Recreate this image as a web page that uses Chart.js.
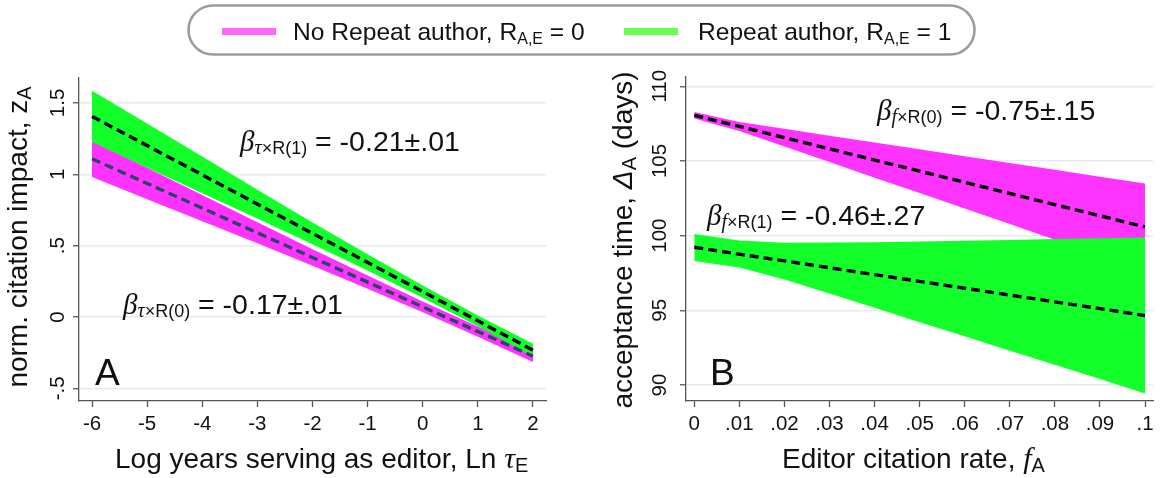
<!DOCTYPE html>
<html><head><meta charset="utf-8">
<script src="https://cdn.jsdelivr.net/npm/chart.js@4.4.0/dist/chart.umd.min.js"></script>
<style>
html,body{margin:0;padding:0;background:#fff;width:1163px;height:478px;overflow:hidden;}
#wrap{position:relative;width:1163px;height:478px;}
canvas{position:absolute;top:0;}
#cA{left:0;} #cB{left:560px;}
svg{position:absolute;left:0;top:0;pointer-events:none;}
text{font-family:"Liberation Sans",Arial,Helvetica,sans-serif;fill:#111;white-space:pre;}
.it{font-family:"Liberation Serif","Times New Roman",serif;font-style:italic;}
.si{font-style:italic;}
</style></head><body>
<div id="wrap">
<canvas id="cA" width="560" height="478"></canvas>
<canvas id="cB" width="603" height="478"></canvas>
<svg width="1163" height="478" xmlns="http://www.w3.org/2000/svg">
  <rect x="188.5" y="5.5" width="786" height="49" rx="24.5" ry="24.5" fill="#fff" stroke="#9c9c9c" stroke-width="2.6"/>
  <rect x="222" y="28" width="54" height="7" fill="#ff66ff"/>
  <text x="293" y="40" font-size="24.6">No Repeat author, R<tspan font-size="16" dy="4">A,E</tspan><tspan dy="-4"> = 0</tspan></text>
  <rect x="624" y="28" width="54" height="7" fill="#66ff4d"/>
  <text x="698" y="40" font-size="24.6">Repeat author, R<tspan font-size="16" dy="4">A,E</tspan><tspan dy="-4"> = 1</tspan></text>

  <text transform="translate(27,237) rotate(-90)" text-anchor="middle" font-size="28">norm. citation impact, z<tspan font-size="20" dy="4">A</tspan></text>
  <text x="115" y="468" font-size="28">Log years serving as editor, Ln <tspan class="it" font-size="30">τ</tspan><tspan font-size="20" dy="4">E</tspan></text>
  <text transform="translate(632,240) rotate(-90)" text-anchor="middle" font-size="28">acceptance time, <tspan class="si">Δ</tspan><tspan font-size="20" dy="4">A</tspan><tspan dy="-4"> (days)</tspan></text>
  <text x="782" y="468" font-size="28">Editor citation rate, <tspan class="it" font-size="30">f</tspan><tspan font-size="20" dy="4">A</tspan></text>

  <text x="240" y="151" font-size="28.5"><tspan class="it" font-size="29">β</tspan><tspan class="it" font-size="20" dy="3">τ</tspan><tspan font-size="18">×R(1)</tspan><tspan dy="-3"> = -0.21±.01</tspan></text>
  <text x="123" y="314" font-size="28.5"><tspan class="it" font-size="29">β</tspan><tspan class="it" font-size="20" dy="3">τ</tspan><tspan font-size="18">×R(0)</tspan><tspan dy="-3"> = -0.17±.01</tspan></text>
  <text x="877" y="120" font-size="28.5"><tspan class="it" font-size="29">β</tspan><tspan class="it" font-size="20" dy="3">f</tspan><tspan font-size="18">×R(0)</tspan><tspan dy="-3"> = -0.75±.15</tspan></text>
  <text x="707" y="225" font-size="28.5"><tspan class="it" font-size="29">β</tspan><tspan class="it" font-size="20" dy="3">f</tspan><tspan font-size="18">×R(1)</tspan><tspan dy="-3"> = -0.46±.27</tspan></text>

  <text x="95" y="385" font-size="37">A</text>
  <text x="710" y="385" font-size="37">B</text>
</svg>
</div>
<script>
// ---------- Panel A: Log years serving as editor ----------
const xA = [-6, -5, -4, -3, -2, -1, 0, 1, 2];
const r1MeanA  = [1.406, 1.201, 0.996, 0.791, 0.586, 0.382, 0.178, -0.027, -0.233];
const r1UpperA = [1.586, 1.356, 1.124, 0.891, 0.663, 0.439, 0.221, 0.011, -0.187];
const r1LowerA = [1.226, 1.046, 0.868, 0.691, 0.509, 0.325, 0.135, -0.065, -0.279];
const r0MeanA  = [1.109, 0.936, 0.763, 0.590, 0.417, 0.244, 0.071, -0.102, -0.275];
const r0UpperA = [1.237, 1.046, 0.855, 0.664, 0.475, 0.290, 0.109, -0.066, -0.234];
const r0LowerA = [0.981, 0.826, 0.671, 0.516, 0.359, 0.198, 0.033, -0.138, -0.316];
const xTicksA = [-6, -5, -4, -3, -2, -1, 0, 1, 2];
const xTickLabelsA = ['-6', '-5', '-4', '-3', '-2', '-1', '0', '1', '2'];
const yTicksA = [-0.5, 0, 0.5, 1, 1.5];
const yTickLabelsA = ['-.5', '0', '.5', '1', '1.5'];

// ---------- Panel B: Editor citation rate ----------
const xB = [0, 0.01, 0.02, 0.03, 0.04, 0.05, 0.06, 0.07, 0.08, 0.09, 0.1];
const r0MeanB  = [108.06, 107.31, 106.56, 105.81, 105.06, 104.32, 103.57, 102.82, 102.07, 101.33, 100.58];
const r0UpperB = [108.28, 107.61, 107.15, 106.69, 106.24, 105.78, 105.32, 104.86, 104.41, 103.95, 103.49];
const r0LowerB = [107.84, 107.01, 105.97, 104.93, 103.88, 102.86, 101.82, 100.78, 99.73, 98.71, 97.67];
const r1MeanB  = [99.22, 98.76, 98.31, 97.85, 97.39, 96.94, 96.48, 96.02, 95.57, 95.11, 94.65];
const r1UpperB = [100.11, 99.68, 99.52, 99.54, 99.56, 99.60, 99.65, 99.70, 99.77, 99.82, 99.88];
const r1LowerB = [98.31, 97.87, 97.07, 96.12, 95.17, 94.21, 93.26, 92.30, 91.35, 90.40, 89.44];
const xTicksB = [0, 0.01, 0.02, 0.03, 0.04, 0.05, 0.06, 0.07, 0.08, 0.09, 0.1];
const xTickLabelsB = ['0', '.01', '.02', '.03', '.04', '.05', '.06', '.07', '.08', '.09', '.1'];
const yTicksB = [90, 95, 100, 105, 110];
const yTickLabelsB = ['90', '95', '100', '105', '110'];

const MAGENTA = '#ff33ff';
const GREEN = '#12ff2a';
const NAVY = '#284766';
const AXIS = '#555555';
const GRID = '#e6ecee';
const NONE = 'rgba(0,0,0,0)';

Chart.defaults.font.family = '"Liberation Sans", Arial, Helvetica, sans-serif';

function pts(xs, ys) { return xs.map((x, i) => ({ x: x, y: ys[i] })); }

function meanLine(xs, ys, color, order) {
  return { data: pts(xs, ys), borderColor: color, borderWidth: 3.4, borderDash: [9, 5],
           borderCapStyle: 'butt', pointRadius: 0, fill: false, tension: 0, order: order };
}
function bandEdge(xs, ys, color, fillNext, order) {
  return { data: pts(xs, ys), borderColor: NONE, borderWidth: 0, pointRadius: 0,
           backgroundColor: color, fill: fillNext ? '+1' : false, tension: 0, order: order };
}

function makeChart(id, cfg) {
  return new Chart(document.getElementById(id), {
    type: 'line',
    data: { datasets: cfg.datasets },
    options: {
      responsive: false, animation: false, events: [],
      layout: { padding: { left: 0, right: cfg.padRight, top: cfg.padTop, bottom: 0 } },
      plugins: { legend: { display: false }, tooltip: { enabled: false } },
      scales: {
        x: {
          type: 'linear', min: cfg.xMin, max: cfg.xMax,
          afterBuildTicks: s => { s.ticks = cfg.xTicks.map(v => ({ value: v })); },
          afterFit: s => { s.height = cfg.xAxisH; },
          ticks: { autoSkip: false, maxRotation: 0, minRotation: 0, padding: 5, color: '#111',
                   font: { size: 20.5 }, callback: (v, i) => cfg.xLabels[i] },
          grid: { drawOnChartArea: false, drawTicks: true, tickLength: 6, tickColor: AXIS, tickWidth: 1.3 },
          border: { display: true, color: AXIS, width: 1.3 }
        },
        y: {
          type: 'linear', min: cfg.yMin, max: cfg.yMax,
          afterBuildTicks: s => { s.ticks = cfg.yTicks.map(v => ({ value: v })); },
          afterFit: s => { s.width = cfg.yAxisW; },
          ticks: { autoSkip: false, minRotation: 90, maxRotation: 90, crossAlign: 'center',
                   padding: cfg.yPad, color: '#111', font: { size: 20.5 }, callback: (v, i) => cfg.yLabels[i] },
          grid: { drawOnChartArea: true, color: GRID, lineWidth: 1.5, drawTicks: true, tickLength: 6,
                  tickColor: AXIS, tickWidth: 1.3 },
          border: { display: true, color: AXIS, width: 1.3 }
        }
      }
    }
  });
}

makeChart('cA', {
  datasets: [
    meanLine(xA, r1MeanA, '#000000', 1),
    meanLine(xA, r0MeanA, NAVY, 2),
    bandEdge(xA, r1UpperA, GREEN, true, 3),
    bandEdge(xA, r1LowerA, GREEN, false, 4),
    bandEdge(xA, r0UpperA, MAGENTA, true, 5),
    bandEdge(xA, r0LowerA, MAGENTA, false, 6)
  ],
  xMin: -6.236, xMax: 2.236, yMin: -0.589, yMax: 1.675,
  xTicks: xTicksA, xLabels: xTickLabelsA, yTicks: yTicksA, yLabels: yTickLabelsA,
  padRight: 14, padTop: 78, xAxisH: 77, yAxisW: 79, yPad: 0
});

makeChart('cB', {
  datasets: [
    meanLine(xB, r1MeanB, '#000000', 1),
    meanLine(xB, r0MeanB, '#000000', 2),
    bandEdge(xB, r1UpperB, GREEN, true, 3),
    bandEdge(xB, r1LowerB, GREEN, false, 4),
    bandEdge(xB, r0UpperB, MAGENTA, true, 5),
    bandEdge(xB, r0LowerB, MAGENTA, false, 6)
  ],
  xMin: -0.00184, xMax: 0.10177, yMin: 88.93, yMax: 110.62,
  xTicks: xTicksB, xLabels: xTickLabelsB, yTicks: yTicksB, yLabels: yTickLabelsB,
  padRight: 10, padTop: 77, xAxisH: 77, yAxisW: 126, yPad: 3
});
</script>
</body></html>
